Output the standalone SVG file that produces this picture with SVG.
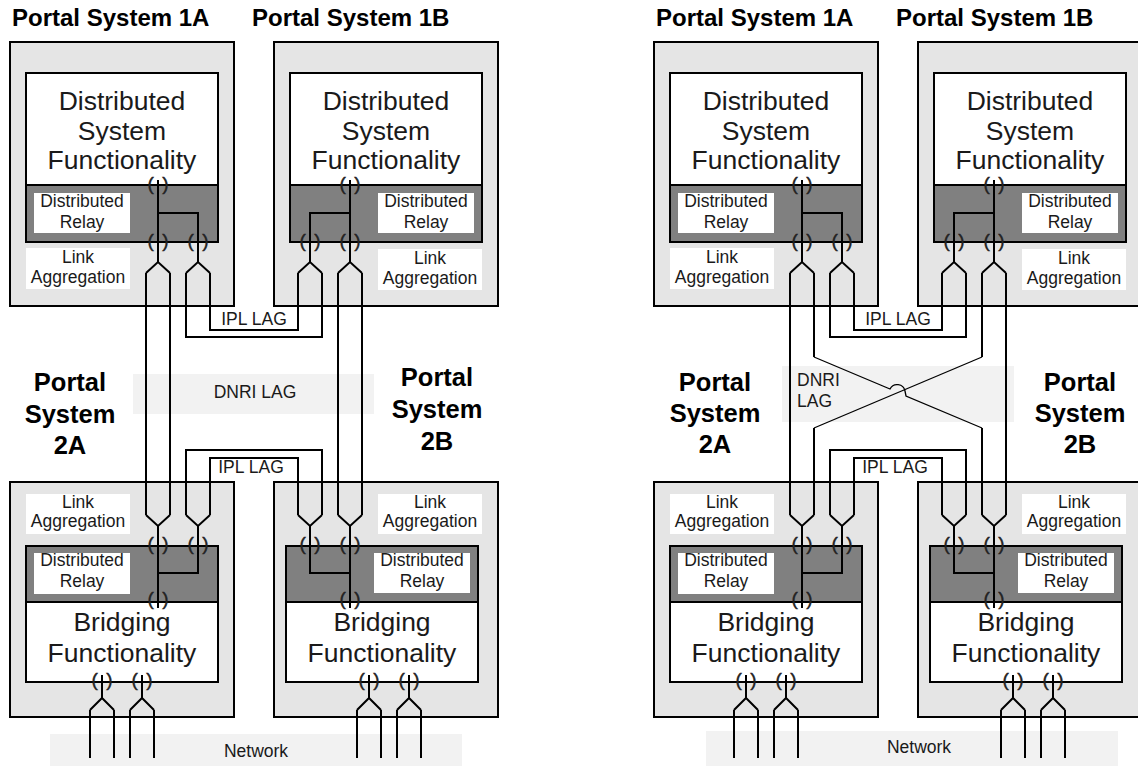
<svg xmlns="http://www.w3.org/2000/svg" width="1138" height="766" viewBox="0 0 1138 766">
<style>
.box{fill:#e5e5e5;stroke:#000;stroke-width:2}
.white{fill:#fff;stroke:#000;stroke-width:2}
.dark{fill:#808080;stroke:#000;stroke-width:2}
.lbl{fill:#fff}
.band{fill:#f2f2f2}
.t{font-family:"Liberation Sans",Arial,Helvetica,sans-serif;fill:#1a1a1a;text-anchor:middle}
.big{font-size:26.5px}
.sm{font-size:17.5px}
.port{font-size:19px;fill:#222;stroke:#222;stroke-width:0.4;word-spacing:3px}
.title{font-family:"Liberation Sans",Arial,Helvetica,sans-serif;font-weight:bold;fill:#000}
.wire{fill:none;stroke:#000;stroke-width:2}
.thin{stroke-width:1.3}
</style>
<rect width="1138" height="766" fill="#fff"/>

<!-- bands -->
<g id="bands">
<rect class="band" x="133" y="374" width="241" height="40"/>
<rect class="band" x="50" y="734" width="412" height="32"/>
<rect class="band" x="782" y="366" width="232" height="56"/>
<rect class="band" x="706" y="731" width="412" height="35"/>
</g>

<!-- titles -->
<g id="titles">
<text class="title" x="12" y="26" font-size="24">Portal System 1A</text>
<text class="title" x="252" y="26" font-size="24">Portal System 1B</text>
<text class="title" x="656" y="26" font-size="24">Portal System 1A</text>
<text class="title" x="896" y="26" font-size="24">Portal System 1B</text>
<g font-size="25.5" text-anchor="middle">
<text class="title" x="70" y="391">Portal</text>
<text class="title" x="70" y="423">System</text>
<text class="title" x="70" y="454">2A</text>
<text class="title" x="437" y="386">Portal</text>
<text class="title" x="437" y="418">System</text>
<text class="title" x="437" y="450">2B</text>
<text class="title" x="715" y="391">Portal</text>
<text class="title" x="715" y="422">System</text>
<text class="title" x="715" y="453">2A</text>
<text class="title" x="1080" y="391">Portal</text>
<text class="title" x="1080" y="422">System</text>
<text class="title" x="1080" y="453">2B</text>
</g>
</g>

<!-- band texts -->
<g id="band-labels">
<text class="t sm" x="255" y="398">DNRI LAG</text>
<text class="t sm" x="256" y="757">Network</text>
<text class="t sm" x="797" y="386" style="text-anchor:start">DNRI</text>
<text class="t sm" x="797" y="407" style="text-anchor:start">LAG</text>
<text class="t sm" x="919" y="753">Network</text>
<text class="t sm" x="254" y="325">IPL LAG</text>
<text class="t sm" x="251" y="473">IPL LAG</text>
<text class="t sm" x="898" y="325">IPL LAG</text>
<text class="t sm" x="895" y="473">IPL LAG</text>
</g>

<!-- ===== LEFT DIAGRAM NODES ===== -->
<g id="L-ps1a">
<rect class="box" x="10" y="42" width="224" height="264"/>
<rect class="white" x="26" y="73" width="192" height="112"/>
<rect class="dark" x="26" y="185" width="192" height="57"/>
<rect class="lbl" x="34" y="193" width="96" height="40"/>
<rect class="lbl" x="26" y="248" width="104" height="41"/>
<text class="t big" x="122" y="110">Distributed</text>
<text class="t big" x="122" y="140">System</text>
<text class="t big" x="122" y="169">Functionality</text>
<text class="t sm" x="82" y="207">Distributed</text>
<text class="t sm" x="82" y="228">Relay</text>
<text class="t sm" x="78" y="263">Link</text>
<text class="t sm" x="78" y="283">Aggregation</text>
<path class="wire" d="M158,180V262M158,213H198V262M146,273L158,262L170,273M186,273L198,262L210,273"/>
<text class="t port" x="158" y="190">( )</text>
<text class="t port" x="158" y="247">( )</text>
<text class="t port" x="198" y="247">( )</text>
</g>

<g id="L-ps1b">
<rect class="box" x="274" y="42" width="224" height="264"/>
<rect class="white" x="290" y="73" width="192" height="112"/>
<rect class="dark" x="290" y="185" width="192" height="57"/>
<rect class="lbl" x="378" y="193" width="96" height="40"/>
<rect class="lbl" x="378" y="249" width="104" height="41"/>
<text class="t big" x="386" y="110">Distributed</text>
<text class="t big" x="386" y="140">System</text>
<text class="t big" x="386" y="169">Functionality</text>
<text class="t sm" x="426" y="207">Distributed</text>
<text class="t sm" x="426" y="228">Relay</text>
<text class="t sm" x="430" y="264">Link</text>
<text class="t sm" x="430" y="284">Aggregation</text>
<path class="wire" d="M350,180V262M350,213H310V262M298,273L310,262L322,273M338,273L350,262L362,273"/>
<text class="t port" x="350" y="190">( )</text>
<text class="t port" x="310" y="247">( )</text>
<text class="t port" x="350" y="247">( )</text>
</g>

<g id="L-ps2a">
<rect class="box" x="10" y="482" width="224" height="235"/>
<rect class="white" x="26" y="602" width="192" height="80"/>
<rect class="dark" x="26" y="546" width="192" height="56"/>
<rect class="lbl" x="26" y="494" width="104" height="40"/>
<rect class="lbl" x="34" y="553" width="96" height="41"/>
<text class="t sm" x="78" y="508">Link</text>
<text class="t sm" x="78" y="527">Aggregation</text>
<text class="t sm" x="82" y="566">Distributed</text>
<text class="t sm" x="82" y="587">Relay</text>
<text class="t big" x="122" y="631">Bridging</text>
<text class="t big" x="122" y="662">Functionality</text>
<path class="wire" d="M158,526V608M198,526V573H158M146,515L158,526L170,515M186,515L198,526L210,515M102,675V698M90,710L102,698L114,710M142,675V698M130,710L142,698L154,710"/>
<text class="t port" x="158" y="550">( )</text>
<text class="t port" x="198" y="550">( )</text>
<text class="t port" x="158" y="605">( )</text>
<text class="t port" x="102" y="686">( )</text>
<text class="t port" x="142" y="686">( )</text>
</g>

<g id="L-ps2b">
<rect class="box" x="274" y="482" width="224" height="235"/>
<rect class="white" x="286" y="602" width="192" height="80"/>
<rect class="dark" x="286" y="546" width="192" height="56"/>
<rect class="lbl" x="378" y="494" width="104" height="40"/>
<rect class="lbl" x="374" y="553" width="96" height="40"/>
<text class="t sm" x="430" y="508">Link</text>
<text class="t sm" x="430" y="527">Aggregation</text>
<text class="t sm" x="422" y="566">Distributed</text>
<text class="t sm" x="422" y="587">Relay</text>
<text class="t big" x="382" y="631">Bridging</text>
<text class="t big" x="382" y="662">Functionality</text>
<path class="wire" d="M350,526V608M310,526V573H350M298,515L310,526L322,515M338,515L350,526L362,515M369,675V698M357,710L369,698L381,710M409,675V698M397,710L409,698L421,710"/>
<text class="t port" x="310" y="550">( )</text>
<text class="t port" x="350" y="550">( )</text>
<text class="t port" x="350" y="605">( )</text>
<text class="t port" x="369" y="686">( )</text>
<text class="t port" x="409" y="686">( )</text>
</g>

<!-- ===== RIGHT DIAGRAM NODES (same layout shifted) ===== -->
<g id="R-ps1a" transform="translate(644,0)">
<rect class="box" x="10" y="42" width="224" height="264"/>
<rect class="white" x="26" y="73" width="192" height="112"/>
<rect class="dark" x="26" y="185" width="192" height="57"/>
<rect class="lbl" x="34" y="193" width="96" height="40"/>
<rect class="lbl" x="26" y="248" width="104" height="41"/>
<text class="t big" x="122" y="110">Distributed</text>
<text class="t big" x="122" y="140">System</text>
<text class="t big" x="122" y="169">Functionality</text>
<text class="t sm" x="82" y="207">Distributed</text>
<text class="t sm" x="82" y="228">Relay</text>
<text class="t sm" x="78" y="263">Link</text>
<text class="t sm" x="78" y="283">Aggregation</text>
<path class="wire" d="M158,180V262M158,213H198V262M146,273L158,262L170,273M186,273L198,262L210,273"/>
<text class="t port" x="158" y="190">( )</text>
<text class="t port" x="158" y="247">( )</text>
<text class="t port" x="198" y="247">( )</text>
</g>

<g id="R-ps1b" transform="translate(644,0)">
<rect class="box" x="274" y="42" width="224" height="264"/>
<rect class="white" x="290" y="73" width="192" height="112"/>
<rect class="dark" x="290" y="185" width="192" height="57"/>
<rect class="lbl" x="378" y="193" width="96" height="40"/>
<rect class="lbl" x="378" y="249" width="104" height="41"/>
<text class="t big" x="386" y="110">Distributed</text>
<text class="t big" x="386" y="140">System</text>
<text class="t big" x="386" y="169">Functionality</text>
<text class="t sm" x="426" y="207">Distributed</text>
<text class="t sm" x="426" y="228">Relay</text>
<text class="t sm" x="430" y="264">Link</text>
<text class="t sm" x="430" y="284">Aggregation</text>
<path class="wire" d="M350,180V262M350,213H310V262M298,273L310,262L322,273M338,273L350,262L362,273"/>
<text class="t port" x="350" y="190">( )</text>
<text class="t port" x="310" y="247">( )</text>
<text class="t port" x="350" y="247">( )</text>
</g>

<g id="R-ps2a" transform="translate(644,0)">
<rect class="box" x="10" y="482" width="224" height="235"/>
<rect class="white" x="26" y="602" width="192" height="80"/>
<rect class="dark" x="26" y="546" width="192" height="56"/>
<rect class="lbl" x="26" y="494" width="104" height="40"/>
<rect class="lbl" x="34" y="553" width="96" height="41"/>
<text class="t sm" x="78" y="508">Link</text>
<text class="t sm" x="78" y="527">Aggregation</text>
<text class="t sm" x="82" y="566">Distributed</text>
<text class="t sm" x="82" y="587">Relay</text>
<text class="t big" x="122" y="631">Bridging</text>
<text class="t big" x="122" y="662">Functionality</text>
<path class="wire" d="M158,526V608M198,526V573H158M146,515L158,526L170,515M186,515L198,526L210,515M102,675V698M90,710L102,698L114,710M142,675V698M130,710L142,698L154,710"/>
<text class="t port" x="158" y="550">( )</text>
<text class="t port" x="198" y="550">( )</text>
<text class="t port" x="158" y="605">( )</text>
<text class="t port" x="102" y="686">( )</text>
<text class="t port" x="142" y="686">( )</text>
</g>

<g id="R-ps2b" transform="translate(644,0)">
<rect class="box" x="274" y="482" width="224" height="235"/>
<rect class="white" x="286" y="602" width="192" height="80"/>
<rect class="dark" x="286" y="546" width="192" height="56"/>
<rect class="lbl" x="378" y="494" width="104" height="40"/>
<rect class="lbl" x="374" y="553" width="96" height="40"/>
<text class="t sm" x="430" y="508">Link</text>
<text class="t sm" x="430" y="527">Aggregation</text>
<text class="t sm" x="422" y="566">Distributed</text>
<text class="t sm" x="422" y="587">Relay</text>
<text class="t big" x="382" y="631">Bridging</text>
<text class="t big" x="382" y="662">Functionality</text>
<path class="wire" d="M350,526V608M310,526V573H350M298,515L310,526L322,515M338,515L350,526L362,515M369,675V698M357,710L369,698L381,710M409,675V698M397,710L409,698L421,710"/>
<text class="t port" x="310" y="550">( )</text>
<text class="t port" x="350" y="550">( )</text>
<text class="t port" x="350" y="605">( )</text>
<text class="t port" x="369" y="686">( )</text>
<text class="t port" x="409" y="686">( )</text>
</g>

<!-- ===== CONNECTORS ===== -->
<g id="connectors">
<!-- left diagram -->
<path class="wire" d="M146,273V515M170,273V515M338,273V515M362,273V515"/>
<path class="wire" d="M186,273V337H322V273M210,273V330H298V273"/>
<path class="wire" d="M186,515V450H322V515M210,515V458H298V515"/>
<path class="wire" d="M90,710V758M114,710V758M130,710V758M154,710V758M357,710V758M381,710V758M397,710V758M421,710V758"/>
<!-- right diagram -->
<path class="wire" d="M790,273V515M1006,273V515"/>
<path class="wire" d="M814,273V357M982,428V515M982,273V357M814,428V515"/>
<path class="wire thin" d="M814,357L890,389A8,8 0 0 1 905,391L906,396L982,428"/>
<path class="wire thin" d="M982,357L814,428"/>
<path class="wire" d="M830,273V337H966V273M854,273V330H942V273"/>
<path class="wire" d="M830,515V450H966V515M854,515V458H942V515"/>
<path class="wire" d="M734,710V758M758,710V758M774,710V758M798,710V758M1001,710V758M1025,710V758M1041,710V758M1065,710V758"/>
</g>
</svg>
